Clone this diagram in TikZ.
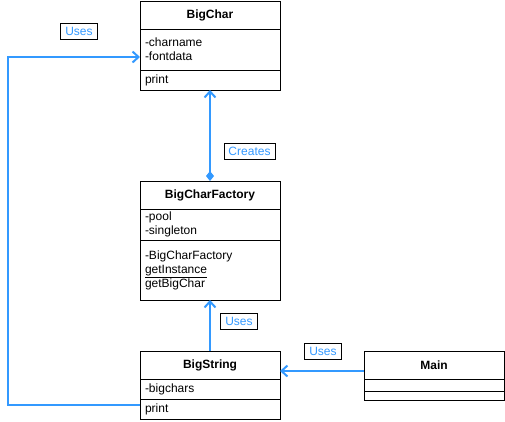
\documentclass[tikz,border=0pt]{standalone}
\usepackage{fontspec}
\setmainfont{Liberation Sans}
\usepackage{tikz}
\usetikzlibrary{arrows.meta, positioning}
\definecolor{UsesBlue}{HTML}{3399FF}

\begin{document}
\begin{tikzpicture}[x=1pt, y=-1pt, font=\fontsize{12}{14}\selectfont,
        umlpart/.style={draw, line width=0.8pt, anchor=north west, outer sep=0pt,
            minimum width=140pt, minimum height=#1, text width=130pt,
            inner xsep=5pt, inner ysep=0pt, align=left},
        umlname/.style={umlpart=#1, align=center, font=\fontsize{12}{14}\selectfont\bfseries},
        uses/.style={UsesBlue, line width=2pt},
        usestag/.style={draw, line width=0.8pt, fill=white, text=UsesBlue,
            inner xsep=4.5pt, inner ysep=0pt, minimum height=16pt},
        openhead/.style={-{Straight Barb[length=6pt, width=11pt]}}]
    \useasboundingbox (0,0) rectangle (505,421);

    \node[umlname=28] (bigchar) at (140,1) {BigChar};
    \node[umlpart=41] (bigcharAttr) at (bigchar.south west) {-charname\\-fontdata};
    \node[umlpart=20] (bigcharOps) at (bigcharAttr.south west) {print};

    \node[umlname=28] (factory) at (140,181) {BigCharFactory};
    \node[umlpart=31] (factoryAttr) at (factory.south west) {-pool\\-singleton};
    \node[umlpart=60] (factoryOps) at (factoryAttr.south west) {-BigCharFactory\\\underline{getInstance}\\getBigChar};

    \node[umlname=28] (bigstring) at (140,351) {BigString};
    \node[umlpart=20] (bigstringAttr) at (bigstring.south west) {-bigchars};
    \node[umlpart=20.5] (bigstringOps) at (bigstringAttr.south west) {print};

    \node[umlname=28] (main) at (364,351) {Main};
    \node[umlpart=12] (mainAttr) at (main.south west) {};
    \node[umlpart=9] (mainOps) at (mainAttr.south west) {};

    \draw[uses, {Diamond[length=10pt, width=8pt]}-{Straight Barb[length=6pt, width=11pt]}]
        (factory.north) -- (bigcharOps.south);
    \draw[uses, openhead] (bigstring.north) -- (factoryOps.south);
    \draw[uses, openhead] ([yshift=-6pt]main.west) -- ([yshift=-6pt]bigstring.east);
    \draw[uses, openhead] ([yshift=4.5pt]bigstringOps.west) -- ++(-132,0)
        |- ([yshift=-7.5pt]bigcharAttr.west);

    \node[usestag] (usesChar) at (79,31) {Uses};
    \node[usestag] (createsTag) at (249.5,151) {Creates};
    \node[usestag] (usesFactory) at (239,321.5) {Uses};
    \node[usestag] (usesString) at (323,351) {Uses};
\end{tikzpicture}
\end{document}
